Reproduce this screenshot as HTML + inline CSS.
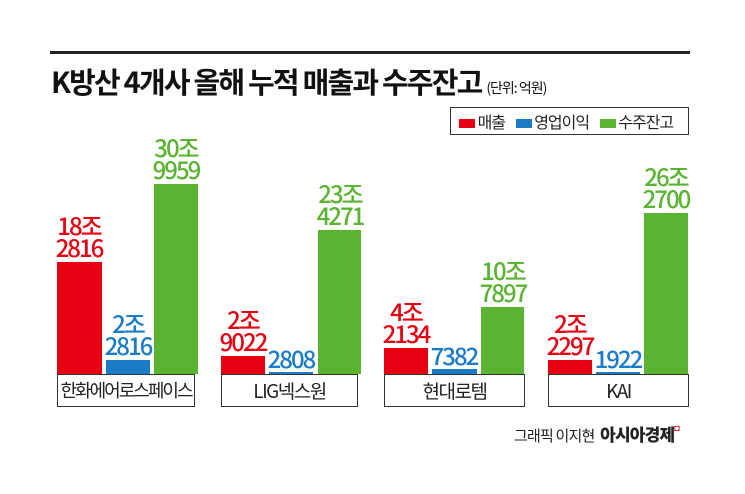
<!DOCTYPE html>
<html><head><meta charset="utf-8"><style>
body{margin:0;width:745px;height:494px;background:#fff;position:relative;overflow:hidden;font-family:"Liberation Sans","Noto Sans CJK KR",sans-serif}
.a{position:absolute}
.bar{position:absolute;bottom:120px}
.r{background:#e60012}.b{background:#1a7cc8}.g{background:#5bb431}
.lbl{position:absolute;width:80px;text-align:center;font-family:"Noto Sans CJK KR",sans-serif;font-size:24px;line-height:22px;letter-spacing:-2px;font-weight:500}
.box{position:absolute;top:374px;height:33px;border:1px solid #333;box-sizing:border-box;text-align:center;font-family:"Noto Sans CJK KR",sans-serif;font-size:19px;line-height:31px;letter-spacing:-1.5px;color:#222;white-space:nowrap}
</style></head><body>
<div class="a" style="left:50px;top:51px;width:640px;height:3px;background:#222"></div>
<div class="a" style="left:51px;top:60px;font-family:'Noto Sans CJK KR',sans-serif;font-size:29px;font-weight:700;letter-spacing:-1.8px;color:#111;white-space:nowrap">K방산 4개사 올해 누적 매출과 수주잔고 <span style="font-size:14px;font-weight:400;letter-spacing:-1px">(단위: 억원)</span></div>
<div class="a" style="left:450px;top:107px;width:239px;height:28px;border:1px solid #333;box-sizing:border-box;font-family:'Noto Sans CJK KR',sans-serif;font-size:16px;line-height:26px;letter-spacing:-1px;color:#222;white-space:nowrap">
<span style="display:inline-block;width:16px;height:9px;background:#e60012;margin-left:8px"></span> 매출
<span style="display:inline-block;width:16px;height:9px;background:#1a7cc8;margin-left:8px"></span> 영업이익
<span style="display:inline-block;width:16px;height:9px;background:#5bb431;margin-left:8px"></span> 수주잔고</div>

<div class="bar r" style="left:57px;width:45px;top:262px"></div>
<div class="bar b" style="left:106px;width:44px;top:360px"></div>
<div class="bar g" style="left:154px;width:44px;top:184px"></div>
<div class="lbl" style="left:39px;top:214px;color:#e60012">18조<br>2816</div>
<div class="lbl" style="left:88px;top:312px;color:#1a7cc8">2조<br>2816</div>
<div class="lbl" style="left:136px;top:136px;color:#5bb431">30조<br>9959</div>

<div class="bar r" style="left:221px;width:44px;top:356px"></div>
<div class="bar b" style="left:269px;width:44px;top:372px"></div>
<div class="bar g" style="left:318px;width:43px;top:230px"></div>
<div class="lbl" style="left:203px;top:308px;color:#e60012">2조<br>9022</div>
<div class="lbl" style="left:251px;top:347px;color:#1a7cc8">2808</div>
<div class="lbl" style="left:300px;top:182px;color:#5bb431">23조<br>4271</div>

<div class="bar r" style="left:384px;width:44px;top:348px"></div>
<div class="bar b" style="left:432px;width:45px;top:369px"></div>
<div class="bar g" style="left:481px;width:43px;top:307px"></div>
<div class="lbl" style="left:366px;top:300px;color:#e60012">4조<br>2134</div>
<div class="lbl" style="left:414px;top:344px;color:#1a7cc8">7382</div>
<div class="lbl" style="left:463px;top:259px;color:#5bb431">10조<br>7897</div>

<div class="bar r" style="left:548px;width:44px;top:360px"></div>
<div class="bar b" style="left:596px;width:44px;top:372px"></div>
<div class="bar g" style="left:644px;width:44px;top:213px"></div>
<div class="lbl" style="left:530px;top:312px;color:#e60012">2조<br>2297</div>
<div class="lbl" style="left:578px;top:347px;color:#1a7cc8">1922</div>
<div class="lbl" style="left:626px;top:165px;color:#5bb431">26조<br>2700</div>

<div class="box" style="left:57px;width:138px;font-size:18px;letter-spacing:-2px">한화에어로스페이스</div>
<div class="box" style="left:221px;width:137px">LIG넥스원</div>
<div class="box" style="left:384px;width:141px">현대로템</div>
<div class="box" style="left:548px;width:141px">KAI</div>

<div class="a" style="left:514px;top:421px;font-family:'Noto Sans CJK KR',sans-serif;font-size:15px;color:#222;letter-spacing:-0.8px;white-space:nowrap">그래픽 이지현 <span style="font-size:17px;font-weight:900;margin-left:3px">아시아경제</span><span style="color:#e60012;font-size:9px;vertical-align:top">◘</span></div>
</body></html>
